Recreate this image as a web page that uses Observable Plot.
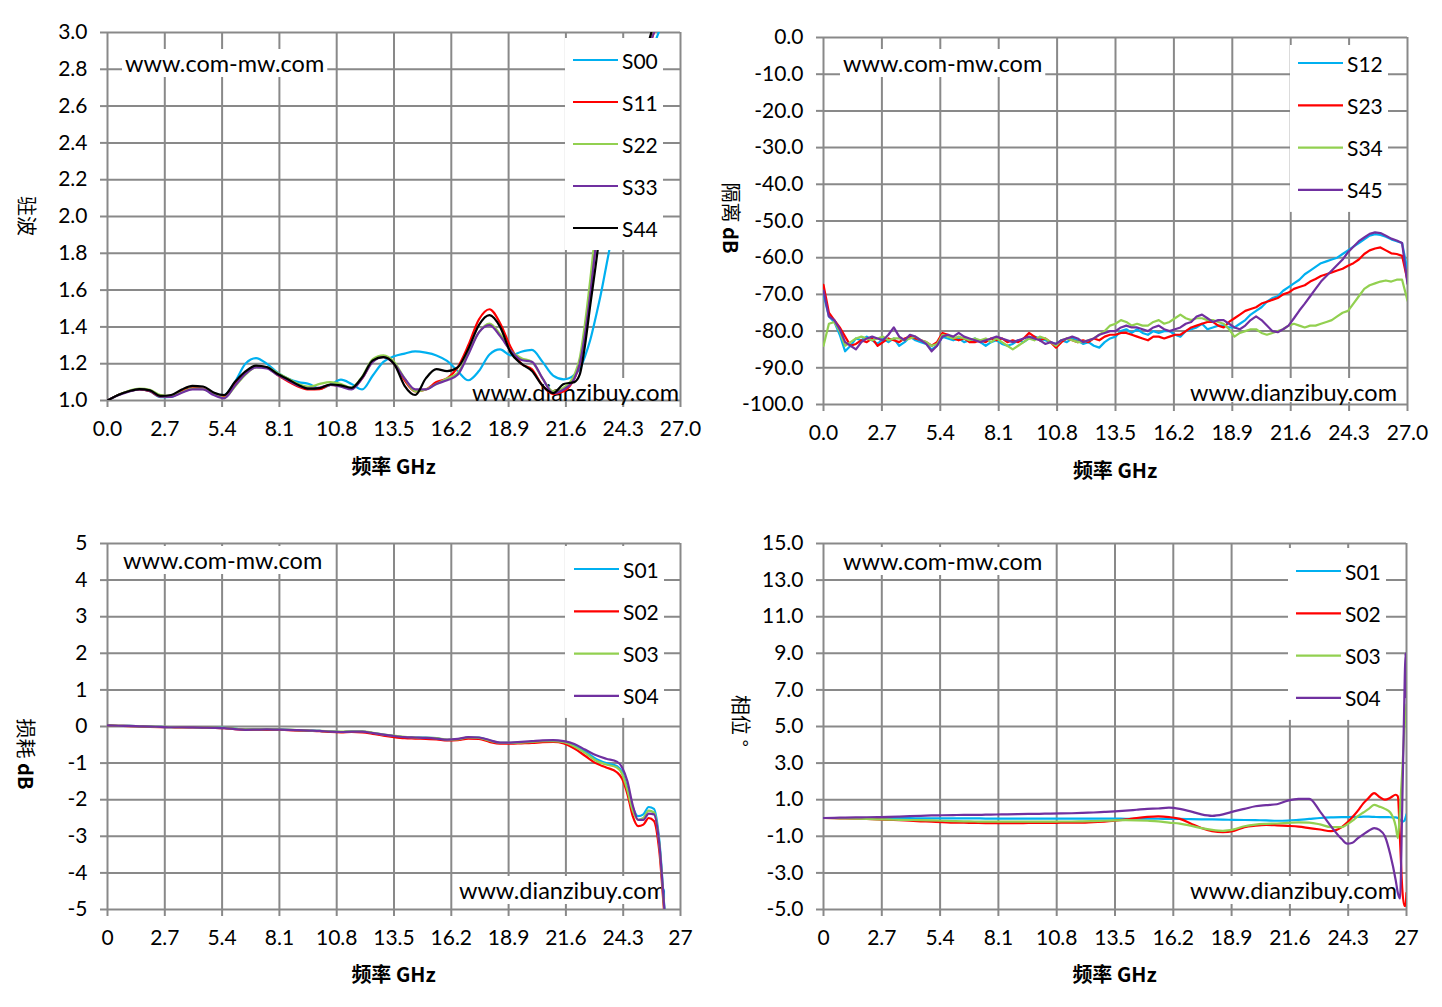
<!DOCTYPE html>
<html>
<head>
<meta charset="utf-8">
<script src="https://cdn.jsdelivr.net/npm/d3@7"></script>
<script src="https://cdn.jsdelivr.net/npm/@observablehq/plot@0.6"></script>
<style>
  body { margin: 0; background: #fff; }
  #fig { position: relative; width: 1442px; height: 1007px; overflow: hidden; background: #fff; }
  #fig svg { position: absolute; }
</style>
</head>
<body>
<div id="fig"></div>
<script>
/*
 * Four-panel S-parameter sheet (VSWR, isolation, insertion loss, phase)
 * redrawn with Observable Plot, one Plot per panel placed on a 1442x1007 page.
 * Watermark boxes, rotated axis titles and the legends are added with d3
 * after each plot renders.
 */

// ---- shared axis ticks ----
const xTicks = [0, 2.7, 5.4, 8.1, 10.8, 13.5, 16.2, 18.9, 21.6, 24.3, 27];
const vswrTicks = [1.0, 1.2, 1.4, 1.6, 1.8, 2.0, 2.2, 2.4, 2.6, 2.8, 3.0];
const isoTicks = [0, -10, -20, -30, -40, -50, -60, -70, -80, -90, -100];
const lossTicks = [5, 4, 3, 2, 1, 0, -1, -2, -3, -4, -5];
const phaseTicks = [15, 13, 11, 9, 7, 5, 3, 1, -1, -3, -5];

// ---- panel 1: VSWR (GHz) ----
const vswrNames = ["S00", "S11", "S22", "S33", "S44"];
const vswrFreq = [0, 0.5, 1, 1.5, 2, 2.5, 3, 3.5, 4, 4.5, 5, 5.5, 6, 6.5, 7, 7.5, 8, 8.5, 9, 9.5,
  10, 10.5, 11, 11.5, 12, 12.5, 13, 13.5, 14, 14.5, 15, 15.5, 16, 16.5, 17, 17.5, 18, 18.5, 19, 19.5,
  20, 20.5, 21, 21.5, 22, 22.25, 22.5, 22.75, 23, 23.25, 23.5, 23.75, 24, 24.25, 24.5,
  25, 25.5, 25.75, 26, 26.5, 27];
const vswrS00 = [1.0, 1.03, 1.05, 1.06, 1.05, 1.018, 1.02, 1.05, 1.07, 1.065, 1.035, 1.03, 1.1, 1.2, 1.23, 1.2, 1.153, 1.12, 1.1, 1.09,
  1.065, 1.085, 1.113, 1.09, 1.06, 1.136, 1.21, 1.24, 1.255, 1.267, 1.26, 1.245, 1.215, 1.16, 1.11, 1.16, 1.25, 1.278, 1.245, 1.265,
  1.275, 1.21, 1.135, 1.115, 1.14, 1.17, 1.24, 1.33, 1.45, 1.58, 1.73, 1.88, 2.03, 2.18, 2.32,
  2.58, 2.82, 2.93, 3.01, 3.2, 3.4];
const vswrS11 = [1.0, 1.03, 1.05, 1.06, 1.05, 1.022, 1.025, 1.05, 1.068, 1.065, 1.035, 1.02, 1.09, 1.15, 1.185, 1.18, 1.14, 1.105, 1.075, 1.06,
  1.062, 1.085, 1.08, 1.065, 1.12, 1.215, 1.24, 1.2, 1.11, 1.05, 1.06, 1.1, 1.12, 1.18, 1.3, 1.44, 1.496, 1.42, 1.29, 1.2,
  1.17, 1.08, 1.035, 1.05, 1.12, 1.2, 1.38, 1.6, 1.85, 2.05, 2.2, 2.33, 2.45, 2.55, 2.64,
  2.78, 2.92, 3.0, 3.08, 3.25, 3.4];
const vswrS22 = [1.0, 1.03, 1.052, 1.065, 1.058, 1.03, 1.025, 1.045, 1.065, 1.062, 1.035, 1.015, 1.075, 1.14, 1.18, 1.18, 1.15, 1.12, 1.09, 1.075,
  1.09, 1.1, 1.09, 1.07, 1.13, 1.225, 1.245, 1.21, 1.12, 1.05, 1.06, 1.09, 1.12, 1.15, 1.26, 1.37, 1.418, 1.36, 1.27, 1.23,
  1.21, 1.12, 1.05, 1.07, 1.14, 1.23, 1.42, 1.66, 1.92, 2.1, 2.25, 2.37, 2.48, 2.58, 2.66,
  2.8, 2.94, 3.02, 3.1, 3.25, 3.4];
const vswrS33 = [1.0, 1.028, 1.048, 1.06, 1.052, 1.022, 1.02, 1.042, 1.06, 1.06, 1.03, 1.012, 1.08, 1.145, 1.18, 1.175, 1.14, 1.11, 1.08, 1.065,
  1.07, 1.085, 1.075, 1.06, 1.12, 1.21, 1.235, 1.2, 1.12, 1.06, 1.06, 1.09, 1.11, 1.14, 1.25, 1.37, 1.41, 1.35, 1.27, 1.22,
  1.21, 1.12, 1.04, 1.06, 1.12, 1.2, 1.36, 1.58, 1.83, 2.03, 2.18, 2.31, 2.43, 2.53, 2.62,
  2.77, 2.92, 3.0, 3.08, 3.25, 3.4];
const vswrS44 = [1.0, 1.03, 1.05, 1.062, 1.055, 1.025, 1.03, 1.06, 1.08, 1.076, 1.044, 1.03, 1.1, 1.158, 1.19, 1.182, 1.145, 1.116, 1.084, 1.064,
  1.067, 1.087, 1.082, 1.069, 1.127, 1.218, 1.236, 1.2, 1.08, 1.03, 1.12, 1.17, 1.16, 1.18, 1.28, 1.41, 1.464, 1.4, 1.26, 1.2,
  1.16, 1.08, 1.04, 1.09, 1.1, 1.14, 1.3, 1.52, 1.73, 1.95, 2.12, 2.26, 2.39, 2.5, 2.6,
  2.77, 2.95, 3.05, 3.15, 3.3, 3.45];

// ---- panel 2: isolation dB ----
const isoNames = ["S12", "S23", "S34", "S45"];
const isoFreq = [0, 0.25, 0.5, 0.75, 1, 1.25, 1.5, 1.75, 2, 2.25, 2.5, 2.75, 3, 3.25, 3.5, 3.75, 4, 4.25, 4.5, 4.75,
  5, 5.25, 5.5, 5.75, 6, 6.25, 6.5, 6.75, 7, 7.25, 7.5, 7.75, 8, 8.25, 8.5, 8.75, 9, 9.25, 9.5, 9.75,
  10, 10.25, 10.5, 10.75, 11, 11.25, 11.5, 11.75, 12, 12.25, 12.5, 12.75, 13, 13.25, 13.5, 13.75, 14, 14.25, 14.5, 14.75,
  15, 15.25, 15.5, 15.75, 16, 16.25, 16.5, 16.75, 17, 17.25, 17.5, 17.75, 18, 18.25, 18.5, 18.75, 19, 19.25, 19.5, 19.75,
  20, 20.25, 20.5, 20.75, 21, 21.25, 21.5, 21.75, 22, 22.25, 22.5, 22.75, 23, 23.25, 23.5, 23.75, 24, 24.25, 24.5, 24.75,
  25, 25.25, 25.5, 25.75, 26, 26.25, 26.5, 26.75, 27];
const isoS12 = [-70, -76, -77.5, -81, -85.5, -84, -82, -82.5, -81.5, -82.5, -83.5, -82, -83, -82, -84, -83, -81.5, -82.5, -83, -83.5,
  -85, -84, -81.5, -82, -82.5, -82, -83, -82.5, -82, -83, -84, -83, -82.5, -83.5, -84, -83.5, -82.5, -83, -82, -81.5,
  -82, -82.5, -83, -83.5, -82.5, -83, -82, -82.5, -83.5, -83, -84, -84.5, -83, -82, -81.5, -80, -79.5, -80.5, -79.5, -80.5,
  -81, -80, -80.5, -80, -80, -81, -81.5, -80, -79.5, -79, -78, -79.5, -79, -78.5, -78.5, -79, -79, -78, -77, -75.5,
  -74.5, -73.5, -72, -71, -70.5, -69, -68, -67, -66, -64.5, -63.5, -62.5, -61.5, -61, -60.5, -60, -59, -58, -57, -56,
  -55, -54, -53.6, -53.8, -54.3, -55, -55.5, -56, -63.5];
const isoS23 = [-67.4, -75, -77, -79, -81.5, -84, -83.5, -82.5, -83, -82, -84, -83, -82, -82.5, -83, -82, -81.5, -82, -82.5, -83,
  -84, -83, -80.5, -81, -82, -82.5, -82, -83, -83, -82.5, -83, -82, -82.5, -82, -83, -82.5, -83, -82, -80.5, -81.5,
  -82.5, -82, -83, -84.5, -83, -82, -82.5, -83, -82.5, -83, -82, -82.5, -81.5, -81, -81, -80.5, -80.5, -81, -81.5, -82,
  -82.5, -81.5, -81.5, -82, -81.5, -81, -81, -80, -79, -78.5, -78, -77.5, -77.5, -78.5, -79, -77.5, -76.5, -75.5, -74.5, -74,
  -73.5, -72.5, -72, -71.5, -71, -70, -69.5, -68.5, -68, -67.5, -66.5, -65.8, -65, -64.5, -64, -63.5, -63, -62.2, -61.5, -60.5,
  -59, -58, -57.5, -57.2, -58, -58.8, -59, -59.5, -66.2];
const isoS34 = [-84, -78, -77.5, -80, -84, -83, -82, -81.5, -82, -82.5, -82, -81.5, -82.5, -82, -82, -82.5, -82, -81.5, -82.5, -83,
  -84, -83.5, -81, -81.5, -82, -81.5, -82, -82.5, -82, -82.5, -82, -83, -82, -83, -84, -85, -84, -83, -82, -82.5,
  -81.5, -82, -83, -84, -82.5, -82, -82.5, -83, -83, -82.5, -82, -81, -80, -78.5, -78, -77, -77.5, -78.5, -78, -78.5,
  -78.5, -77.5, -77, -78, -77.5, -76.5, -75.5, -76.5, -77, -76.5, -76.5, -77, -77, -77.5, -78, -79.5, -81.5, -80.5, -80, -79.5,
  -79.5, -80.5, -81, -80.5, -80, -79.5, -78.5, -78, -78.5, -79, -78.5, -78.5, -78, -77.5, -77, -76, -75, -74.5, -72.5, -70.5,
  -68.5, -67.5, -67, -66.5, -66.2, -66.5, -66, -66, -71.7];
const isoS45 = [-69, -76, -77, -79.5, -83, -84, -85, -83, -82, -81.5, -82, -82.5, -81, -79, -81.5, -82.5, -81, -81.5, -82.5, -83.5,
  -85.5, -84, -81.5, -81, -81.5, -80.5, -81.5, -82, -82.5, -83, -82.5, -82, -81.5, -82, -82.5, -83, -82.5, -82, -81.5, -82,
  -82.5, -83.5, -83, -83.5, -82.5, -82, -81.5, -82, -83, -82.5, -82, -81, -80.5, -80, -80, -79, -78.5, -79, -79, -79.5,
  -80, -79, -78.5, -79.5, -80, -79.5, -79, -78, -77.5, -76, -75.5, -76.5, -77.5, -77, -77, -78, -79, -79.5, -78.5, -77,
  -76, -77, -78.5, -80, -80.3, -79.5, -78.5, -76.5, -74.4, -72.5, -70.5, -68.5, -66.5, -65, -63.5, -62, -60.5, -58.5, -57, -55.5,
  -54.5, -53.5, -53.1, -53.3, -54, -54.8, -55.3, -56, -67.1];

// ---- panels 3 and 4: insertion loss dB and phase ° ----
const thruNames = ["S01", "S02", "S03", "S04"];
const thruFreq = [0, 0.5, 1, 1.5, 2, 2.5, 3, 3.5, 4, 4.5, 5, 5.5, 6, 6.5, 7, 7.5, 8, 8.5, 9, 9.5,
  10, 10.5, 11, 11.5, 12, 12.5, 13, 13.5, 14, 14.5, 15, 15.5, 16, 16.5, 17, 17.5, 18, 18.5, 19, 19.5,
  20, 20.5, 21, 21.5, 22, 22.5, 23, 23.5, 24,
  24.25, 24.5, 24.75, 25, 25.25, 25.5, 25.75, 26, 26.25, 26.5, 26.6, 26.7, 26.8, 26.9, 26.95, 27];
const lossS01 = [0.03, 0.02, 0.015, 0.005, -0.005, -0.01, -0.02, -0.02, -0.02, -0.03, -0.03, -0.04, -0.06, -0.08, -0.08, -0.08, -0.08, -0.09, -0.1, -0.11,
  -0.12, -0.14, -0.15, -0.14, -0.14, -0.18, -0.22, -0.26, -0.29, -0.3, -0.3, -0.32, -0.37, -0.36, -0.3, -0.3, -0.38, -0.45, -0.45, -0.44,
  -0.42, -0.4, -0.39, -0.42, -0.52, -0.68, -0.88, -1.0, -1.08,
  -1.25, -1.7, -2.2, -2.45, -2.4, -2.2, -2.25, -3.1, -5.0, -6.5, -7, -7.5, -8, -8.5, -9, -9];
const lossS02 = [0.03, 0.02, 0.01, 0.0, -0.01, -0.015, -0.02, -0.025, -0.025, -0.03, -0.035, -0.045, -0.07, -0.09, -0.09, -0.09, -0.09, -0.1, -0.11, -0.12,
  -0.13, -0.15, -0.16, -0.15, -0.16, -0.2, -0.25, -0.29, -0.32, -0.33, -0.34, -0.35, -0.38, -0.37, -0.33, -0.34, -0.42, -0.47, -0.47, -0.46,
  -0.45, -0.43, -0.42, -0.46, -0.6, -0.8, -1.0, -1.12, -1.25,
  -1.43, -1.85, -2.45, -2.72, -2.68, -2.5, -2.58, -3.4, -5.2, -6.6, -7.1, -7.6, -8.1, -8.6, -9.1, -9.1];
const lossS03 = [0.03, 0.02, 0.015, 0.005, -0.005, -0.01, -0.015, -0.02, -0.02, -0.025, -0.03, -0.04, -0.06, -0.08, -0.08, -0.075, -0.08, -0.085, -0.1, -0.11,
  -0.12, -0.13, -0.14, -0.13, -0.13, -0.17, -0.22, -0.25, -0.28, -0.3, -0.31, -0.32, -0.36, -0.35, -0.3, -0.31, -0.39, -0.45, -0.45, -0.44,
  -0.42, -0.4, -0.4, -0.43, -0.55, -0.72, -0.93, -1.04, -1.12,
  -1.3, -1.75, -2.3, -2.55, -2.5, -2.3, -2.35, -3.2, -5.1, -6.5, -7, -7.5, -8, -8.5, -9, -9];
const lossS04 = [0.03, 0.02, 0.015, 0.005, -0.005, -0.01, -0.02, -0.02, -0.025, -0.03, -0.035, -0.045, -0.07, -0.09, -0.085, -0.08, -0.085, -0.09, -0.1, -0.11,
  -0.12, -0.14, -0.15, -0.14, -0.14, -0.18, -0.22, -0.26, -0.29, -0.3, -0.31, -0.33, -0.36, -0.34, -0.29, -0.3, -0.37, -0.44, -0.44, -0.42,
  -0.4, -0.38, -0.37, -0.4, -0.48, -0.63, -0.78, -0.88, -0.96,
  -1.12, -1.5, -2.15, -2.55, -2.55, -2.38, -2.4, -3.2, -5.05, -6.5, -7, -7.5, -8, -8.5, -9, -9];

const phaseS01 = [0, 0, 0, 0, 0, 0, -0.01, -0.01, -0.01, -0.02, -0.02, -0.02, -0.02, -0.02, -0.02, -0.03, -0.03, -0.03, -0.03, -0.03,
  -0.03, -0.03, -0.03, -0.03, -0.03, -0.03, -0.03, -0.03, -0.04, -0.04, -0.04, -0.04, -0.05, -0.05, -0.06, -0.07, -0.08, -0.09, -0.1, -0.11,
  -0.12, -0.13, -0.15, -0.14, -0.1, -0.05, 0.0, 0.03, 0.05,
  0.05, 0.06, 0.06, 0.07, 0.07, 0.06, 0.05, 0.05, 0.04, 0.03, 0.0, -0.1, -0.2, -0.15, 0.0, 0.2];
const phaseS02 = [0, -0.01, -0.02, -0.03, -0.05, -0.07, -0.1, -0.12, -0.15, -0.18, -0.2, -0.22, -0.25, -0.26, -0.27, -0.28, -0.28, -0.28, -0.28, -0.27,
  -0.27, -0.27, -0.26, -0.26, -0.25, -0.22, -0.2, -0.15, -0.08, 0.0, 0.06, 0.09, 0.05, -0.05, -0.3, -0.55, -0.72, -0.78, -0.7, -0.5,
  -0.42, -0.38, -0.4, -0.43, -0.47, -0.55, -0.63, -0.72, -0.5,
  -0.25, 0.05, 0.4, 0.8, 1.1, 1.36, 1.15, 1.0, 1.1, 1.27, 1.18, -1.2, -3.8, -4.8, -4.8, -4.1];
const phaseS03 = [0, -0.01, -0.02, -0.03, -0.05, -0.07, -0.09, -0.1, -0.11, -0.12, -0.13, -0.15, -0.17, -0.18, -0.19, -0.2, -0.2, -0.2, -0.2, -0.2,
  -0.2, -0.2, -0.19, -0.19, -0.18, -0.17, -0.15, -0.13, -0.12, -0.13, -0.15, -0.18, -0.25, -0.31, -0.42, -0.55, -0.65, -0.7, -0.62, -0.45,
  -0.36, -0.32, -0.3, -0.27, -0.24, -0.25, -0.35, -0.5, -0.5,
  -0.35, -0.15, 0.1, 0.3, 0.5, 0.72, 0.62, 0.5, 0.3, -0.45, -1.1, 0.5, 2.5, 4.8, 5.6, 6.2];
const phaseS04 = [0, 0.01, 0.02, 0.03, 0.04, 0.05, 0.06, 0.08, 0.1, 0.12, 0.14, 0.15, 0.16, 0.17, 0.17, 0.18, 0.19, 0.2, 0.21, 0.22,
  0.23, 0.24, 0.25, 0.26, 0.28, 0.3, 0.33, 0.36, 0.4, 0.45, 0.5, 0.52, 0.57, 0.5, 0.36, 0.2, 0.12, 0.2, 0.36, 0.5,
  0.64, 0.7, 0.75, 0.95, 1.05, 1.05, 0.35, -0.45, -1.15,
  -1.4, -1.35, -1.1, -0.9, -0.7, -0.55, -0.65, -1.0, -2.0, -3.4, -4.1, -4.4, 0.5, 6.5, 9.0, 6.6];

// ---- styling ----
const GRID = "#898989";
const SERIES_COLORS = ["#00B0F0", "#FF0000", "#92D050", "#7030A0", "#000000"];
const LATIN = "Lato, 'Noto Sans', sans-serif";
const CJK = "'Noto Sans CJK SC', 'Noto Sans', sans-serif";
const fmt1 = (d) => d.toFixed(1);
const fmtPlain = (d) => String(d);

function toRows(freq, names, series) {
  const rows = [];
  series.forEach((vals, i) => vals.forEach((v, j) => rows.push({ f: freq[j], v, s: names[i] })));
  return rows;
}

function drawPanel(cfg) {
  const rows = toRows(cfg.freq, cfg.names, cfg.series);
  const plot = Plot.plot({
    width: cfg.width,
    height: cfg.height,
    marginLeft: cfg.ml,
    marginRight: cfg.mr,
    marginTop: cfg.mt,
    marginBottom: cfg.mb,
    style: { fontFamily: LATIN, color: "#000", background: "transparent", overflow: "visible" },
    x: { domain: [0, 27] },
    y: { domain: cfg.yDomain },
    color: { domain: cfg.names, range: SERIES_COLORS },
    marks: [
      Plot.gridX(xTicks, { stroke: GRID, strokeOpacity: 1, strokeWidth: 2 }),
      Plot.gridY(cfg.yTicks, { stroke: GRID, strokeOpacity: 1, strokeWidth: 2 }),
      Plot.axisX(xTicks, {
        tickSize: 7, tickPadding: 14, tickFormat: cfg.xFormat,
        stroke: GRID, strokeWidth: 2, fill: "#000", fontSize: 21, label: null
      }),
      Plot.axisY(cfg.yTicks, {
        tickSize: 7, tickPadding: 13, tickFormat: cfg.yFormat,
        stroke: GRID, strokeWidth: 2, fill: "#000", fontSize: 21, label: null
      }),
      Plot.line(rows, {
        x: "f", y: "v", z: "s", stroke: "s",
        strokeWidth: 2.2, curve: cfg.curve, clip: true
      })
    ]
  });
  plot.style.left = cfg.left + "px";
  plot.style.top = cfg.top + "px";
  document.getElementById("fig").appendChild(plot);
  decorate(plot, cfg);
}

function decorate(svg, cfg) {
  const s = d3.select(svg);
  const L = cfg.ml, T = cfg.mt, R = cfg.width - cfg.mr, B = cfg.height - cfg.mb;

  // watermark boxes sit between the grid and the curves
  const lineG = svg.querySelector('g[aria-label="line"]');
  const wm = s.insert("g", () => lineG);
  const marks = [
    { text: "www.com-mw.com", x: L + cfg.wmTop[0], y: T + cfg.wmTop[1], anchor: "start" },
    { text: "www.dianzibuy.com", x: R - cfg.wmBottom[0], y: B - cfg.wmBottom[1], anchor: "end" }
  ];
  for (const m of marks) {
    const t = wm.append("text")
      .attr("x", m.x).attr("y", m.y)
      .attr("text-anchor", m.anchor)
      .attr("dominant-baseline", "central")
      .style("font-family", LATIN).style("font-size", "23.5px").attr("fill", "#000")
      .text(m.text);
    const bb = t.node().getBBox();
    const x0 = Math.max(bb.x - 3, L + 2), x1 = Math.min(bb.x + bb.width + 3, R - 2);
    const y0 = Math.max(bb.y, T + 2), y1 = Math.min(bb.y + bb.height, B - 2);
    wm.insert("rect", () => t.node())
      .attr("x", x0).attr("y", y0).attr("width", x1 - x0).attr("height", y1 - y0)
      .attr("fill", "#fff");
  }

  // rotated y title (reads top to bottom)
  const yt = s.append("text")
    .attr("transform", `translate(${cfg.yTitlePos[0]},${cfg.yTitlePos[1]}) rotate(90)`)
    .attr("text-anchor", "middle").attr("dominant-baseline", "central")
    .style("font-size", "20px").attr("fill", "#000");
  yt.append("tspan").style("font-family", CJK).text(cfg.yTitle[0]);
  if (cfg.yTitle[1]) {
    yt.append("tspan").style("font-family", CJK).style("font-weight", "bold").text(" " + cfg.yTitle[1]);
  }

  // x title
  s.append("text")
    .attr("x", (L + R) / 2).attr("y", cfg.xTitleY)
    .attr("text-anchor", "middle").attr("dominant-baseline", "central")
    .style("font-family", CJK).style("font-size", "20px").style("font-weight", "bold")
    .attr("fill", "#000")
    .text("频率 GHz");

  // legend box over the curves
  const lg = cfg.legend;
  const n = cfg.names.length;
  const g = s.append("g");
  const lastRow = T + lg.first + lg.step * (n - 1);
  g.append("rect")
    .attr("x", R - lg.boxLeft).attr("y", T + lg.boxTop)
    .attr("width", lg.boxLeft - lg.boxRight).attr("height", lastRow + 22 - (T + lg.boxTop))
    .attr("fill", "#fff");
  cfg.names.forEach((name, i) => {
    const y = T + lg.first + lg.step * i;
    g.append("line")
      .attr("x1", R - lg.lineFrom).attr("x2", R - lg.lineFrom + 45)
      .attr("y1", y).attr("y2", y)
      .attr("stroke", SERIES_COLORS[i]).attr("stroke-width", 2.2);
    g.append("text")
      .attr("x", R - lg.lineFrom + 49).attr("y", y)
      .attr("text-anchor", "start")
      .attr("dominant-baseline", "central")
      .style("font-family", LATIN).style("font-size", "21px").attr("fill", "#000")
      .text(name);
  });
}

drawPanel({
  left: 0, top: 0, width: 721, height: 500, ml: 107, mt: 32, mr: 41, mb: 100,
  freq: vswrFreq, names: vswrNames, series: [vswrS00, vswrS11, vswrS22, vswrS33, vswrS44],
  yDomain: [1, 3], yTicks: vswrTicks, yFormat: fmt1, xFormat: fmt1, curve: "monotone-x",
  yTitle: ["驻波"], yTitlePos: [28, 216], xTitleY: 465,
  wmTop: [18, 31], wmBottom: [1, 8],
  legend: { first: 28, step: 42, boxLeft: 115, boxRight: 17, boxTop: 6, lineFrom: 107 }
});

drawPanel({
  left: 721, top: 0, width: 721, height: 500, ml: 102, mt: 37, mr: 35, mb: 96,
  freq: isoFreq, names: isoNames, series: [isoS12, isoS23, isoS34, isoS45],
  yDomain: [-100, 0], yTicks: isoTicks, yFormat: fmt1, xFormat: fmt1, curve: "linear",
  yTitle: ["隔离", "dB"], yTitlePos: [11, 218], xTitleY: 469,
  wmTop: [20, 26], wmBottom: [10, 12],
  legend: { first: 26, step: 42.3, boxLeft: 117, boxRight: 19, boxTop: 8, lineFrom: 109 }
});

drawPanel({
  left: 0, top: 500, width: 721, height: 507, ml: 107, mt: 43, mr: 41, mb: 98,
  freq: thruFreq, names: thruNames, series: [lossS01, lossS02, lossS03, lossS04],
  yDomain: [-5, 5], yTicks: lossTicks, yFormat: fmtPlain, xFormat: fmtPlain, curve: "monotone-x",
  yTitle: ["损耗", "dB"], yTitlePos: [27, 254], xTitleY: 473,
  wmTop: [16, 17], wmBottom: [14, 19],
  legend: { first: 26, step: 42.3, boxLeft: 115, boxRight: 16, boxTop: 3, lineFrom: 106 }
});

drawPanel({
  left: 721, top: 500, width: 721, height: 507, ml: 102, mt: 43, mr: 36, mb: 98,
  freq: thruFreq, names: thruNames, series: [phaseS01, phaseS02, phaseS03, phaseS04],
  yDomain: [-5, 15], yTicks: phaseTicks, yFormat: fmt1, xFormat: fmtPlain, curve: "monotone-x",
  yTitle: ["相位 °"], yTitlePos: [21, 221], xTitleY: 473,
  wmTop: [20, 18], wmBottom: [9, 19],
  legend: { first: 28, step: 42.3, boxLeft: 118, boxRight: 20, boxTop: 5, lineFrom: 110 }
});
</script>
</body>
</html>
